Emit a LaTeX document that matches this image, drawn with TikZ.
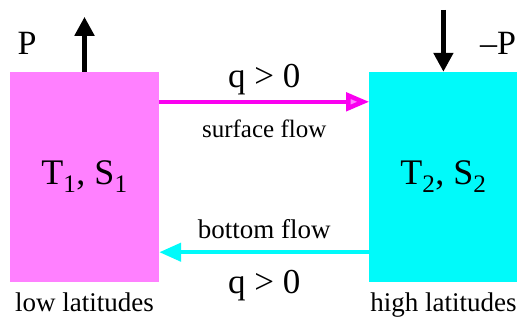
\documentclass[tikz,border=0pt]{standalone}
\usepackage{fontspec}
\setmainfont{Liberation Serif}
\usetikzlibrary{positioning,arrows.meta}
\definecolor{lowmag}{RGB}{255,128,255}
\definecolor{flowmag}{RGB}{250,0,240}
\definecolor{highcyan}{RGB}{0,250,250}

\begin{document}
\begin{tikzpicture}[x=1pt, y=-1pt, node distance=210pt, every node/.style={font=\fontsize{27}{30}\selectfont, text=black}]
    \useasboundingbox (0,0) rectangle (521,325);
    \node[fill=lowmag, minimum width=149pt, minimum height=210pt, inner sep=0pt, font=\fontsize{36}{40}\selectfont] (low) at (84.5,177) {T\textsubscript{1}, S\textsubscript{1}};
    \node[fill=highcyan, minimum width=148pt, minimum height=210pt, inner sep=0pt, font=\fontsize{36}{40}\selectfont, right=of low] (high) {T\textsubscript{2}, S\textsubscript{2}};
    \coordinate[above=55pt of low.north] (evap);
    \coordinate[above=62pt of high.north] (precip);
    \draw[line width=5pt, -{Triangle[length=19pt, width=19pt]}] (low.north) -- (evap);
    \draw[line width=5pt, -{Triangle[length=19pt, width=19pt]}] (precip) -- (high.north);
    \node[font=\fontsize{34}{40}\selectfont] (plabel) at (27,43) {P};
    \node[font=\fontsize{34}{40}\selectfont] (mplabel) at (498,43) {\textendash P};
    \draw[flowmag, line width=4.5pt, -{Triangle[length=23pt, width=18pt, fill=lowmag]}]
      ([yshift=-30pt]low.north east) -- node[above=1pt, font=\fontsize{35}{40}\selectfont] (qtop) {q > 0} node[below=13pt, font=\fontsize{25}{30}\selectfont] (surf) {surface flow} ([yshift=-30pt]high.north west);
    \draw[highcyan, line width=4.5pt, -{Triangle[length=22pt, width=18pt]}]
      ([yshift=30pt]high.south west) -- node[above=8pt] (bott) {bottom flow} node[below=12pt, font=\fontsize{35}{40}\selectfont] (qbot) {q > 0} ([yshift=30pt]low.south east);
    \node[below=7pt of low] (lowlat) {low latitudes};
    \node[below=7pt of high] (highlat) {high latitudes};
  \end{tikzpicture}
\end{document}
